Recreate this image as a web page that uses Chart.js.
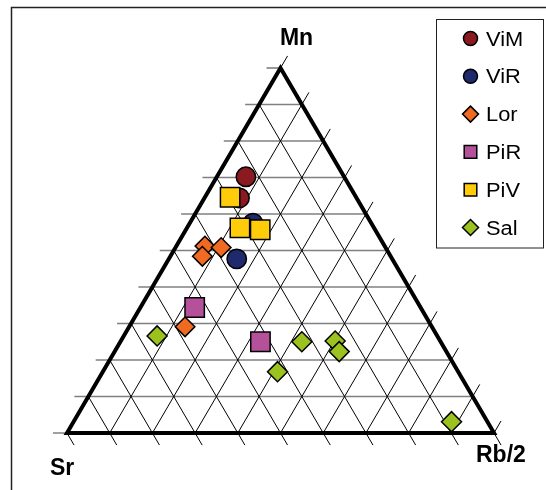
<!DOCTYPE html>
<html><head><meta charset="utf-8">
<script src="https://cdn.jsdelivr.net/npm/chart.js@4/dist/chart.umd.min.js"></script>
<style>html,body{margin:0;padding:0;background:#fff;} #wrap{width:546px;height:490px;position:relative;}</style>
</head><body><div id="wrap"><canvas id="c" width="546" height="490"></canvas></div>
<script>
// Ternary compositions, each point: [Sr, Rb/2, Mn] in %
const seriesNames = ['ViM', 'ViR', 'Lor', 'PiR', 'PiV', 'Sal'];
const ViM = [[23.0, 6.8, 70.2], [27.4, 8.2, 64.4]];
const ViR = [[27.7, 14.8, 57.5], [36.4, 15.9, 47.7]];
const Lor = [[42.1, 6.7, 51.2], [38.5, 10.7, 50.8], [44.1, 7.5, 48.4], [57.8, 13.1, 29.1]];
const PiR = [[52.9, 12.7, 34.4], [42.2, 32.8, 25.0]];
const PiV = [[29.5, 5.9, 64.6], [31.4, 12.4, 56.2], [26.9, 17.4, 55.7]];
const Sal = [[65.6, 7.8, 26.6], [32.5, 42.5, 25.0], [24.6, 50.2, 25.2], [25.1, 52.6, 22.3], [42.3, 40.9, 16.8], [8.4, 88.5, 3.1]];
const axisLabels = ['Sr', 'Rb/2', 'Mn'];
const gridSteps = [0, 10, 20, 30, 40, 50, 60, 70, 80, 90, 100];

const seriesData = [ViM, ViR, Lor, PiR, PiV, Sal];
const styles = [
  {shape: 'circle', fill: '#8a1a1f', r: 9.7, lr: 7},
  {shape: 'circle', fill: '#1f2a6e', r: 9.7, lr: 7},
  {shape: 'rectRot', fill: '#f06a21', r: 9.8, lr: 8},
  {shape: 'rect', fill: '#b4519a', r: 13.7, lr: 8.9},
  {shape: 'rect', fill: '#ffcc0a', r: 13.7, lr: 8.9},
  {shape: 'rectRot', fill: '#9bc21e', r: 10, lr: 8}
];

function toXY(p) { return {x: p[1] + p[2] / 2, y: p[2]}; }

const datasets = seriesNames.map((n, i) => ({
  label: n,
  data: seriesData[i].map(toXY),
  pointStyle: styles[i].shape,
  pointRadius: styles[i].r,
  pointHoverRadius: styles[i].r,
  backgroundColor: styles[i].fill,
  borderColor: '#000',
  borderWidth: 1.5,
  order: seriesNames.length - i,
  clip: false
}));

function P(chart, sr, rb, mn) {
  const xs = chart.scales.x, ys = chart.scales.y;
  return {x: xs.getPixelForValue(rb + mn / 2), y: ys.getPixelForValue(mn)};
}
function unit(a, b) { const dx = b.x - a.x, dy = b.y - a.y, l = Math.hypot(dx, dy); return {x: dx / l, y: dy / l}; }
function line(ctx, a, b) { ctx.beginPath(); ctx.moveTo(a.x, a.y); ctx.lineTo(b.x, b.y); ctx.stroke(); }

const TICK = 14;
const ternaryPlugin = {
  id: 'ternary',
  beforeDatasetsDraw(chart) {
    const ctx = chart.ctx;
    const vSr = P(chart, 100, 0, 0), vRb = P(chart, 0, 100, 0), vMn = P(chart, 0, 0, 100);
    const dLeft = unit(vSr, vMn);   // direction of "/" lines
    const dRight = unit(vMn, vRb);  // direction of "\" lines
    ctx.save();
    ctx.lineCap = 'butt';
    // horizontal lines (constant Mn) + ticks to the left
    ctx.strokeStyle = '#808080'; ctx.lineWidth = 1.6;
    gridSteps.forEach(m => {
      const a = P(chart, 100 - m, 0, m), b = P(chart, 0, 100 - m, m);
      line(ctx, {x: a.x - TICK, y: a.y}, b);
    });
    // "/" lines (constant Rb) + ticks beyond right edge
    ctx.strokeStyle = '#000'; ctx.lineWidth = 1;
    gridSteps.forEach(r => {
      const a = P(chart, 100 - r, r, 0), b = P(chart, 0, r, 100 - r);
      line(ctx, a, {x: b.x + dLeft.x * TICK, y: b.y + dLeft.y * TICK});
    });
    // "\" lines (constant Sr) + ticks below bottom edge
    gridSteps.forEach(s => {
      const a = P(chart, s, 0, 100 - s), b = P(chart, s, 100 - s, 0);
      line(ctx, a, {x: b.x + dRight.x * TICK, y: b.y + dRight.y * TICK});
    });
    // triangle frame
    ctx.strokeStyle = '#000'; ctx.lineWidth = 4; ctx.lineJoin = 'miter';
    ctx.beginPath(); ctx.moveTo(vSr.x, vSr.y); ctx.lineTo(vMn.x, vMn.y); ctx.lineTo(vRb.x, vRb.y); ctx.closePath(); ctx.stroke();
    ctx.restore();
  },
  afterDraw(chart) {
    const ctx = chart.ctx;
    ctx.save();
    // outer frame (partially visible)
    ctx.strokeStyle = '#222'; ctx.lineWidth = 1.5;
    ctx.beginPath(); ctx.moveTo(11.5, 490); ctx.lineTo(11.5, 7.5); ctx.lineTo(546, 7.5); ctx.stroke();
    // axis labels
    ctx.fillStyle = '#000';
    ctx.font = 'bold 23px "Liberation Sans", Arial, sans-serif';
    ctx.textBaseline = 'alphabetic';
    ctx.textAlign = 'center'; ctx.fillText(axisLabels[2], 296.5, 45);
    ctx.textAlign = 'left'; ctx.fillText(axisLabels[0], 50, 475);
    ctx.fillText(axisLabels[1], 476, 462);
    // legend
    ctx.fillStyle = '#fff'; ctx.strokeStyle = '#222'; ctx.lineWidth = 1;
    ctx.fillRect(436.5, 19.5, 107, 228.5); ctx.strokeRect(436.5, 19.5, 107, 228.5);
    seriesNames.forEach((n, i) => {
      const cy = 38.5 + i * 37.8, cx = 470.5, st = styles[i];
      ctx.fillStyle = st.fill; ctx.strokeStyle = '#000'; ctx.lineWidth = 1.5;
      ctx.beginPath();
      if (st.shape === 'circle') ctx.arc(cx, cy, st.lr, 0, Math.PI * 2);
      else if (st.shape === 'rectRot') { ctx.moveTo(cx, cy - st.lr); ctx.lineTo(cx + st.lr, cy); ctx.lineTo(cx, cy + st.lr); ctx.lineTo(cx - st.lr, cy); ctx.closePath(); }
      else { const h = st.lr * Math.SQRT1_2; ctx.rect(cx - h, cy - h, 2 * h, 2 * h); }
      ctx.fill(); ctx.stroke();
      ctx.save();
      ctx.translate(486, cy + 7);
      ctx.scale(1.12, 1);
      ctx.fillStyle = '#000';
      ctx.font = '19.5px "Liberation Sans", Arial, sans-serif';
      ctx.textAlign = 'left';
      ctx.fillText(n, 0, 0);
      ctx.restore();
    });
    ctx.restore();
  }
};

new Chart(document.getElementById('c'), {
  type: 'scatter',
  data: {datasets},
  options: {
    responsive: false,
    animation: false,
    layout: {padding: {left: 67, right: 52, top: 68, bottom: 57}},
    scales: {
      x: {type: 'linear', min: 0, max: 100, display: false},
      y: {type: 'linear', min: 0, max: 100, display: false}
    },
    plugins: {legend: {display: false}, tooltip: {enabled: false}}
  },
  plugins: [ternaryPlugin]
});
</script>
</body></html>
